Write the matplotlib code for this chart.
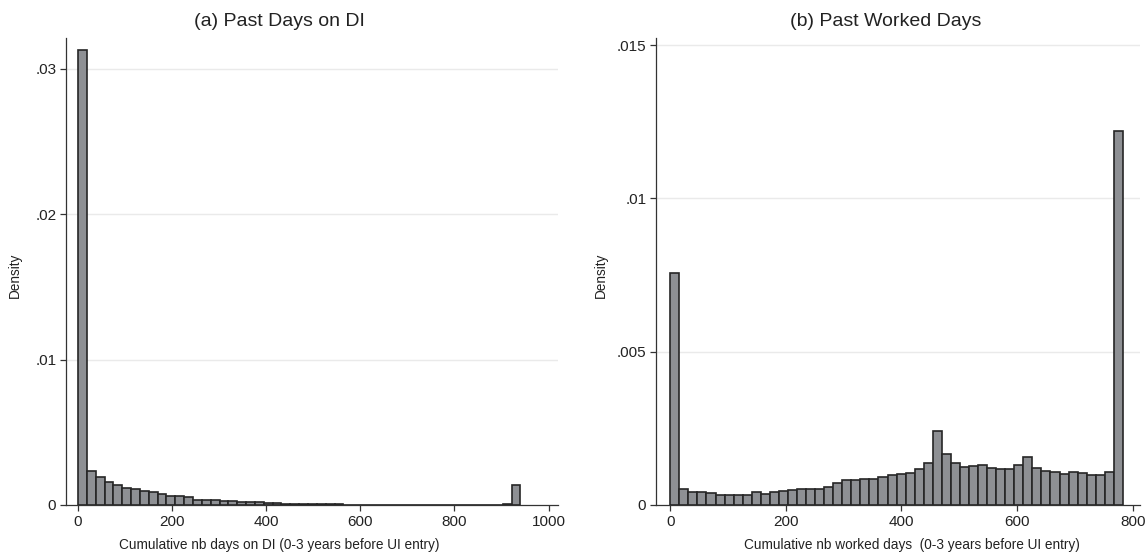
import numpy as np
import matplotlib
matplotlib.use("Agg")
import matplotlib.pyplot as plt

plt.rcParams['font.family'] = ['Liberation Sans', 'DejaVu Sans']

# panel (a): past days on DI, 50 bins of ~18.8 days
di_width = 18.8
di_density = [0.0313, 0.00236, 0.00195, 0.0016, 0.00137, 0.00116, 0.0011, 0.00099,
              0.00092, 0.00078, 0.00064, 0.00062, 0.00055, 0.00037, 0.00037, 0.00034,
              0.0003, 0.00025, 0.00023, 0.0002, 0.00018, 0.00014, 0.00011, 0.0001,
              0.00008, 0.00007, 0.00006, 0.00005, 0.00005, 0.00004, 0.00003, 0.00003,
              0.00003, 0.00002, 0, 0, 0, 0, 0, 0,
              0, 0, 0, 0, 0, 0, 0, 0, 0.00005, 0.00135]

# panel (b): past worked days, 50 bins of ~15.66 days
wd_width = 15.66
wd_density = [0.00756, 0.00051, 0.00041, 0.00041, 0.0004, 0.00034, 0.00034, 0.00034,
              0.00033, 0.00041, 0.00037, 0.00043, 0.00047, 0.00049, 0.00051, 0.00052,
              0.00051, 0.00059, 0.00072, 0.00081, 0.00081, 0.00086, 0.00084, 0.0009,
              0.00098, 0.001, 0.00104, 0.00116, 0.00138, 0.00242, 0.00166, 0.00138,
              0.00123, 0.00127, 0.0013, 0.0012, 0.00117, 0.00119, 0.0013, 0.00156,
              0.00122, 0.00111, 0.00106, 0.00102, 0.00109, 0.00105, 0.00099, 0.00098,
              0.00107, 0.01221]

di_ticks = [0, 200, 400, 600, 800, 1000]
di_yticks = [0, 0.01, 0.02, 0.03]
di_ylabels = ['0', '.01', '.02', '.03']
wd_ticks = [0, 200, 400, 600, 800]
wd_yticks = [0, 0.005, 0.01, 0.015]
wd_ylabels = ['0', '.005', '.01', '.015']

bar_col = '#8e9094'
edge_col = '#262626'
W, H = 1146, 554

fig = plt.figure(figsize=(W / 100, H / 100), dpi=100)
fig.patch.set_facecolor('white')


def panel(rect, width, dens, xt, yt, yl, xlim, ylim):
    ax = fig.add_axes(rect)
    left = np.arange(len(dens)) * width
    ax.bar(left, dens, width=width, align='edge', color=bar_col,
           edgecolor=edge_col, linewidth=1.2, zorder=3)
    ax.set_xlim(*xlim)
    ax.set_ylim(*ylim)
    ax.set_xticks(xt)
    ax.set_yticks(yt)
    ax.set_yticklabels(yl)
    for y in yt[1:]:
        ax.axhline(y, color='#eaeaea', lw=1.0, zorder=1)
    for s in ['top', 'right']:
        ax.spines[s].set_visible(False)
    for s in ['left', 'bottom']:
        ax.spines[s].set_color('#333333')
        ax.spines[s].set_linewidth(0.9)
    ax.tick_params(direction='out', length=4, width=0.9, color='#333333',
                   labelsize=11, labelcolor='#222222', pad=3)
    return ax


def fx(px):
    return px / W


def fy(py):
    return 1 - py / H


bottom = fy(505)
height = fy(38) - bottom
panel([fx(66), bottom, fx(558) - fx(66), height], di_width, di_density,
      di_ticks, di_yticks, di_ylabels, (-25.5, 1020), (0, 0.0321))
panel([fx(656), bottom, fx(1140) - fx(656), height], wd_width, wd_density,
      wd_ticks, wd_yticks, wd_ylabels, (-24.7, 812.6), (0, 0.01523))

tcol = '#222222'
fig.text(fx(279), fy(22), '(a) Past Days on DI', ha='center', va='center',
         fontsize=14, color=tcol)
fig.text(fx(886), fy(22), '(b) Past Worked Days', ha='center', va='center',
         fontsize=14, color=tcol)
fig.text(fx(279), fy(545), 'Cumulative nb days on DI (0-3 years before UI entry)',
         ha='center', va='center', fontsize=9.8, color=tcol)
fig.text(fx(912), fy(545), 'Cumulative nb worked days  (0-3 years before UI entry)',
         ha='center', va='center', fontsize=9.8, color=tcol)
fig.text(fx(15), fy(275), 'Density', ha='center', va='center', rotation=90,
         fontsize=9.8, color=tcol)
fig.text(fx(601), fy(275), 'Density', ha='center', va='center', rotation=90,
         fontsize=9.8, color=tcol)

fig.savefig('out.png', dpi=100)
